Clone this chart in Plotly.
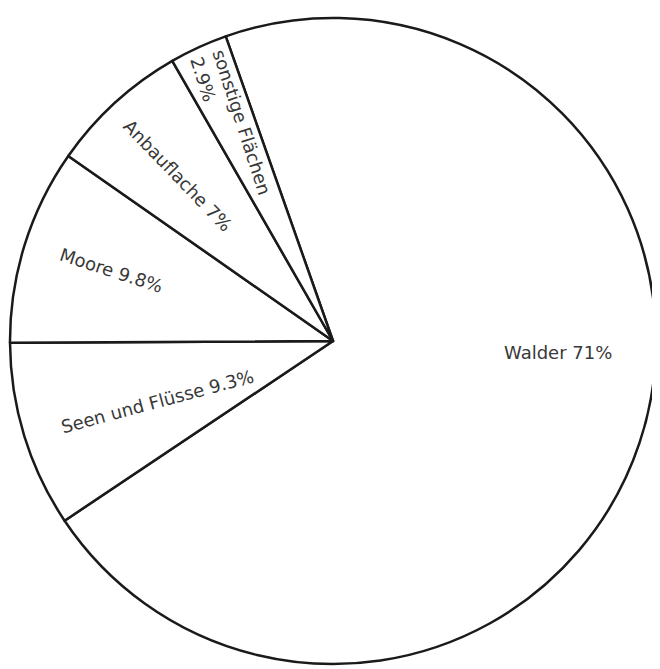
import plotly.graph_objects as go

# Data
categories = ["Walder", "Seen und Flüsse", "Moore", "Anbauflache", "sonstige Flächen"]
display_labels = ["Walder 71%", "Seen und Flüsse 9.3%", "Moore 9.8%", "Anbauflache 7%", "sonstige Flächen<br>2.9%"]
values = [71, 9.3, 9.8, 7, 2.9]

# Label placement (pixel centre in the 660x669 window) and rotation, kept apart from data
label_px = [(558, 352), (157, 401), (112, 270), (178, 175), (231, 126)]
label_angle = [0, -15, 18, 46, 72]
label_align = ["center", "center", "center", "center", "left"]

W, H = 660, 669
OFF = 8  # default page body margin
cx, cy, r = 333 - OFF, 341 - OFF, 323

fig = go.Figure()
fig.add_trace(go.Pie(
    labels=categories,
    values=values,
    sort=False,
    direction="clockwise",
    rotation=-19.4,
    textinfo="none",
    hoverinfo="label+percent",
    marker=dict(colors=["white"] * len(values), line=dict(color="#1a1a1a", width=2.5)),
    domain=dict(x=[(cx - r) / W, (cx + r) / W], y=[1 - (cy + r) / H, 1 - (cy - r) / H]),
    showlegend=False,
))

for txt, (px, py), ang, al in zip(display_labels, label_px, label_angle, label_align):
    fig.add_annotation(
        x=(px - OFF) / W, y=1 - (py - OFF) / H, xref="paper", yref="paper",
        text=txt, showarrow=False, textangle=ang, align=al,
        xanchor="center", yanchor="middle",
        font=dict(family="DejaVu Sans", size=18, color="#383838"),
    )

fig.update_layout(
    width=W, height=H,
    margin=dict(l=0, r=0, t=0, b=0),
    paper_bgcolor="white", plot_bgcolor="white",
)

fig.write_html("out.html")
